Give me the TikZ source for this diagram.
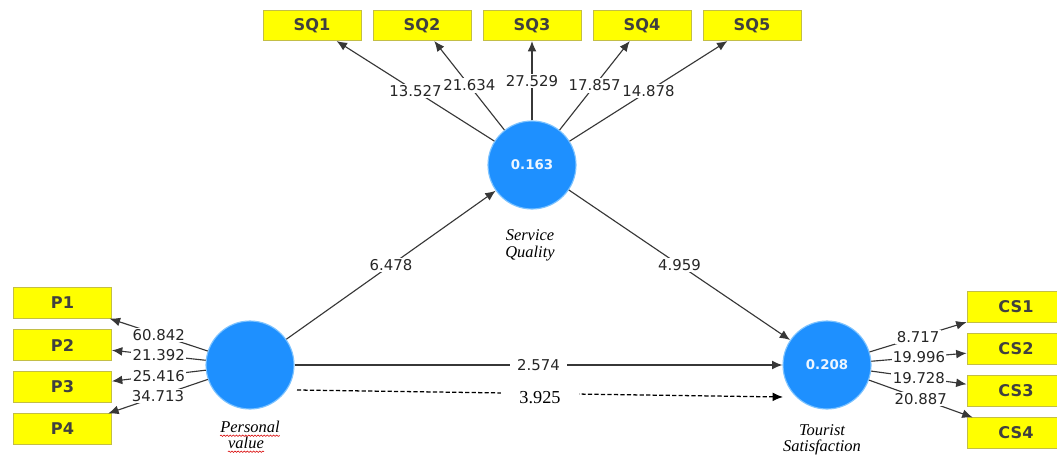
\documentclass[tikz,border=0pt]{standalone}
\usepackage{fontspec}
\usepackage{tikz}
\usetikzlibrary{arrows.meta,decorations.pathmorphing}
\setmainfont{Liberation Serif}
\newfontfamily\plsfont{DejaVu Sans}
\definecolor{itemyellow}{RGB}{255,255,0}
\definecolor{itemborder}{RGB}{195,190,70}
\definecolor{lvblue}{RGB}{30,144,255}
\definecolor{lvrim}{RGB}{125,195,255}
\definecolor{linkgray}{RGB}{55,55,55}

\begin{document}
\begin{tikzpicture}[
        item/.style={draw=itemborder, line width=0.6pt, fill=itemyellow, minimum width=2.45cm, minimum height=0.76cm, inner sep=0pt, font=\plsfont\bfseries\fontsize{11.5}{14}\selectfont, text=black!75},
        latent/.style={circle, draw=lvrim, line width=0.8pt, fill=lvblue, minimum size=2.2cm, inner sep=0pt, font=\plsfont\bfseries\fontsize{9.5}{11}\selectfont, text=white!92!lvblue},
        lvname/.style={inner sep=0pt, font=\itshape\fontsize{11.7}{12}\selectfont, align=center},
        link/.style={draw=linkgray, line width=0.8pt, -{Latex[length=2.6mm,width=2.2mm]}},
        weight/.style={fill=white, inner sep=1pt, font=\plsfont\fontsize{10.6}{12}\selectfont, text=black!85},
        squiggle/.style={red!85!black, line width=0.4pt, decorate, decoration={snake, amplitude=0.5pt, segment length=2.2pt}}
    ]
        \fill[white] (0,0) rectangle (26.425,11.425);
        \useasboundingbox (0,0) rectangle (26.425,11.425);

        \node[item] (sq1) at (7.8,10.79) {SQ1};
        \node[item] (sq2) at (10.55,10.79) {SQ2};
        \node[item] (sq3) at (13.3,10.79) {SQ3};
        \node[item] (sq4) at (16.05,10.79) {SQ4};
        \node[item] (sq5) at (18.8,10.79) {SQ5};

        \node[item] (p1) at (1.5625,3.85) {P1};
        \node[item] (p2) at (1.5625,2.8) {P2};
        \node[item] (p3) at (1.5625,1.75) {P3};
        \node[item] (p4) at (1.5625,0.7) {P4};

        \node[item] (cs1) at (25.4,3.75) {CS1};
        \node[item] (cs2) at (25.4,2.7) {CS2};
        \node[item] (cs3) at (25.4,1.65) {CS3};
        \node[item] (cs4) at (25.4,0.6) {CS4};

        \node[latent] (sq) at (13.3,7.3) {0.163};
        \node[latent] (pv) at (6.25,2.3) {};
        \node[latent] (ts) at (20.675,2.3) {0.208};

        \node[lvname] (sqname) at (13.25,5.3) {Service\\Quality};
        \node[lvname] (tsname) at (20.55,0.43) {Tourist\\Satisfaction};
        \node[lvname] (pvname1) at (6.25,0.75) {Personal};
        \node[lvname] (pvname2) at (6.15,0.35) {value};
        \draw[squiggle] ([yshift=-2.2pt]pvname1.base west) -- ([yshift=-2.2pt]pvname1.base east);
        \draw[squiggle] ([yshift=-2.2pt]pvname2.base west) -- ([yshift=-2.2pt]pvname2.base east);

        \draw[link] (sq) -- node[weight]{13.527} (sq1);
        \draw[link] (sq) -- node[weight]{21.634} (sq2);
        \draw[link] (sq) -- node[weight]{27.529} (sq3);
        \draw[link] (sq) -- node[weight]{17.857} (sq4);
        \draw[link] (sq) -- node[weight]{14.878} (sq5);

        \draw[link] (pv) -- node[weight]{60.842} (p1);
        \draw[link] (pv) -- node[weight]{21.392} (p2);
        \draw[link] (pv) -- node[weight]{25.416} (p3);
        \draw[link] (pv) -- node[weight]{34.713} (p4);

        \draw[link] (ts) -- node[weight]{8.717} (cs1);
        \draw[link] (ts) -- node[weight]{19.996} (cs2);
        \draw[link] (ts) -- node[weight]{19.728} (cs3);
        \draw[link] (ts) -- node[weight]{20.887} (cs4);

        \draw[link] (pv) -- node[weight]{6.478} (sq);
        \draw[link] (sq) -- node[weight]{4.959} (ts);
        \draw[link] (pv) -- node[weight, inner xsep=5pt]{2.574} (ts);

        \coordinate (indL) at (7.425,1.675);
        \coordinate (indR) at (19.575,1.5);
        \draw[link, draw=black, line width=0.9pt, dash pattern=on 3pt off 1.6pt] (indL) -- node[fill=white, inner xsep=0.45cm, inner ysep=1pt, yshift=-0.1cm, font=\fontsize{13}{15}\selectfont]{3.925} (indR);
\end{tikzpicture}
\end{document}
